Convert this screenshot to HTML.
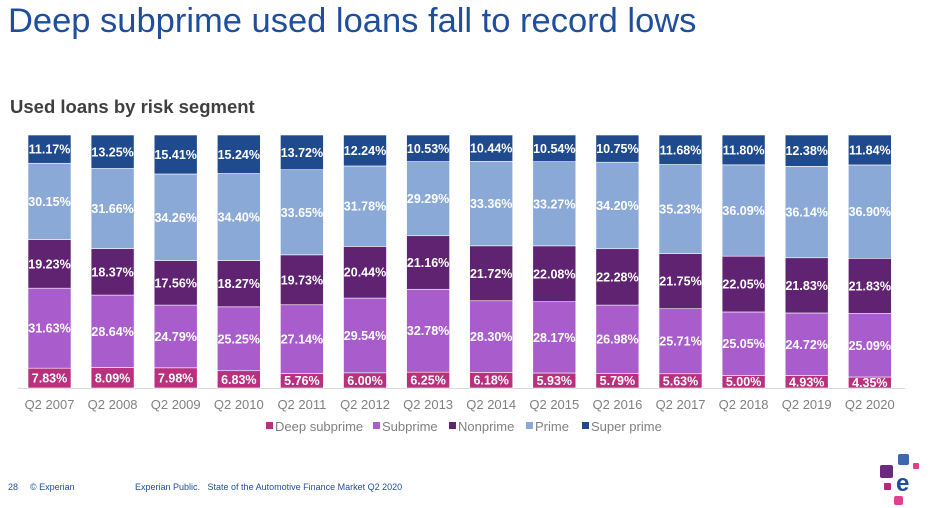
<!DOCTYPE html>
<html><head><meta charset="utf-8"><style>
body{margin:0;width:936px;height:508px;background:#fff;font-family:"Liberation Sans",Arial,sans-serif;overflow:hidden;position:relative}
#title{position:absolute;left:8px;top:2px;font-size:34.5px;color:#1f4e9c;white-space:nowrap}
#sub{position:absolute;left:10px;top:96px;font-size:18.5px;font-weight:bold;color:#404040}
.foot{position:absolute;top:482px;font-size:9px;white-space:nowrap}
</style></head><body>
<div id="title">Deep subprime used loans fall to record lows</div>
<div id="sub">Used loans by risk segment</div>
<svg id="chart" width="936" height="508" style="position:absolute;left:0;top:0"></svg>
<div class="foot" style="left:8px;color:#1f4e9c">28</div>
<div class="foot" style="left:30px;color:#1f4e9c">© Experian</div>
<div class="foot" style="left:135px;color:#1f4e9c">Experian Public.&nbsp;&nbsp; State of the Automotive Finance Market Q2 2020</div>
<svg width="60" height="60" style="position:absolute;left:870px;top:446px">
<rect x="28" y="8" width="11" height="11" rx="2" fill="#3d68ad"/>
<rect x="43" y="17" width="6" height="6" rx="1" fill="#e0408f"/>
<rect x="10" y="19" width="13" height="13" rx="2" fill="#6b2a80"/>
<rect x="14" y="37" width="7" height="7" rx="1" fill="#b5267a"/>
<rect x="24" y="50" width="9" height="9" rx="2" fill="#e0408f"/>
<text x="26" y="45" font-size="24" font-weight="bold" fill="#1f4e9c" font-family="Liberation Sans, sans-serif">e</text>
</svg>
<script>
const categories=["Q2 2007","Q2 2008","Q2 2009","Q2 2010","Q2 2011","Q2 2012","Q2 2013","Q2 2014","Q2 2015","Q2 2016","Q2 2017","Q2 2018","Q2 2019","Q2 2020"];
const deepSubprime=[7.83,8.09,7.98,6.83,5.76,6.00,6.25,6.18,5.93,5.79,5.63,5.00,4.93,4.35];
const subprime=[31.63,28.64,24.79,25.25,27.14,29.54,32.78,28.30,28.17,26.98,25.71,25.05,24.72,25.09];
const nonprime=[19.23,18.37,17.56,18.27,19.73,20.44,21.16,21.72,22.08,22.28,21.75,22.05,21.83,21.83];
const prime=[30.15,31.66,34.26,34.40,33.65,31.78,29.29,33.36,33.27,34.20,35.23,36.09,36.14,36.90];
const superPrime=[11.17,13.25,15.41,15.24,13.72,12.24,10.53,10.44,10.54,10.75,11.68,11.80,12.38,11.84];
const seriesNames=["Deep subprime","Subprime","Nonprime","Prime","Super prime"];
const series=[deepSubprime,subprime,nonprime,prime,superPrime];
const colors=["#b8307e","#a95ccb","#5f2372","#8aa9d7","#1f4b8e"];
const svg=document.getElementById('chart');const NS="http://www.w3.org/2000/svg";
const x0=28,step=63.1,bw=43,yBot=388,yTop=135;
function xPos(i){return x0+i*step;}
function yScale(v,tot){return (yBot-yTop)*v/tot;}
function mk(t,a){const e=document.createElementNS(NS,t);for(const k in a)e.setAttribute(k,a[k]);svg.appendChild(e);return e;}
const base=mk('line',{x1:18,x2:905,y1:yBot+0.5,y2:yBot+0.5,stroke:'#d9d9d9','stroke-width':1});


categories.forEach((c,i)=>{
  const tot=series.reduce((s,a)=>s+a[i],0);
  let y=yBot;
  series.forEach((arr,j)=>{
    const h=yScale(arr[i],tot);y-=h;
    const r=mk('rect',{x:xPos(i),y:y,width:bw,height:h,fill:colors[j],stroke:'#fff','stroke-width':0.6});
    
    
    const t=mk('text',{x:xPos(i)+bw/2,y:y+h/2+4.5,'text-anchor':'middle','font-size':12.5,'font-weight':'bold',fill:'#fff'});
    t.textContent=arr[i].toFixed(2)+'%';
    
    
  });
  const l=mk('text',{x:xPos(i)+bw/2,y:409,'text-anchor':'middle','font-size':13,fill:'#808080'});
  l.textContent=c;
  
  
});
const legX=[266,373,449,526,582];
seriesNames.forEach((n,j)=>{
  const s=mk('rect',{x:legX[j],y:422,width:7,height:7,fill:colors[j]});
  
  
  const t=mk('text',{x:legX[j]+9,y:431,'font-size':13,fill:'#808080'});
  t.textContent=n;
  
  
});
</script>
</body></html>
